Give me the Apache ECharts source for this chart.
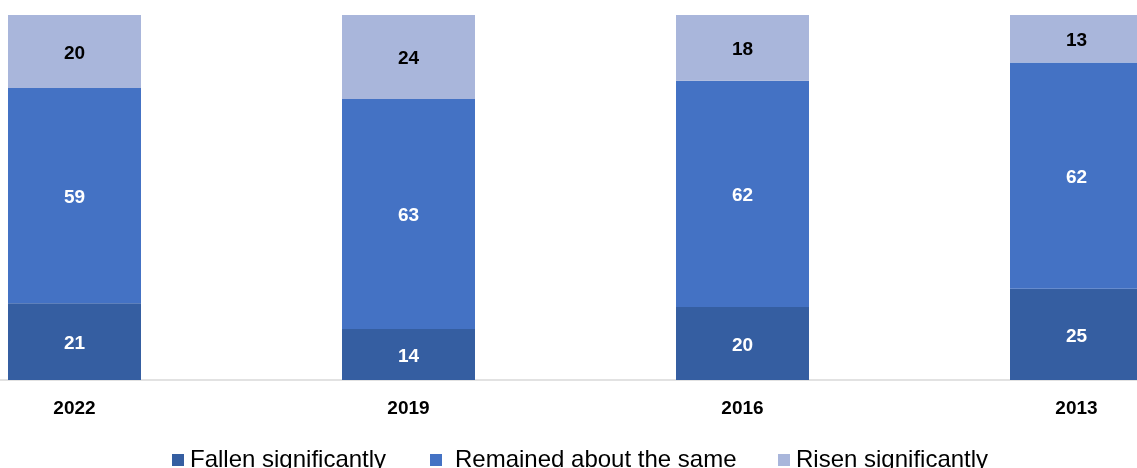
<!DOCTYPE html>
<html>
<head>
<meta charset="utf-8">
<script src="https://cdn.jsdelivr.net/npm/echarts@6/dist/echarts.min.js"></script>
<style>
html,body{margin:0;padding:0;background:#fff;}
#chart{width:1137px;height:468px;}
</style>
</head>
<body>
<div id="chart"></div>
<script>
var years = ['2022', '2019', '2016', '2013'];
var fallen = [21, 14, 20, 25];
var same = [59, 63, 62, 62];
var risen = [20, 24, 18, 13];
var seriesNames = ['Fallen significantly', 'Remained about the same', 'Risen significantly'];

var myChart = echarts.init(document.getElementById('chart'));

var fontName = 'Liberation Sans, Arial, sans-serif';

// label style for the segments
function segLabel(color)
{
	return {
		show: true,
		position: 'inside',
		offset: [0, 2],
		color: color,
		fontFamily: fontName,
		fontWeight: 'bold',
		fontSize: 19
	};
}

// one legend per item so each can sit where it is in the picture
function oneLegend(name, left, gap)
{
	return {
		top: 448,
		left: left,
		padding: 0,
		itemWidth: 12,
		itemHeight: 12,
		icon: 'rect',
		textStyle: {fontFamily: fontName, fontSize: 24, color: '#000', padding: [0, 0, 0, gap]},
		data: [name]
	};
}

var option = {
	animation: false,
	backgroundColor: '#ffffff',
	grid: {left: -92.5, top: 15, width: 1336, height: 365, outerBoundsMode: 'none', containLabel: false},
	legend: [
		oneLegend(seriesNames[0], 172, 1),
		oneLegend(seriesNames[1], 430, 8),
		oneLegend(seriesNames[2], 778, 1)
	],
	xAxis: {
		type: 'category',
		data: years,
		axisLine: {lineStyle: {color: '#d9d9d9', width: 1.5}},
		axisTick: {show: false},
		axisLabel: {
			margin: 19,
			color: '#000',
			fontFamily: fontName,
			fontWeight: 'bold',
			fontSize: 19
		}
	},
	yAxis: {
		type: 'value',
		min: 0,
		max: 100,
		show: false,
		splitLine: {show: false}
	},
	series: [
		{
			name: seriesNames[0],
			type: 'bar',
			stack: 'all',
			barWidth: 133,
			data: fallen,
			itemStyle: {color: '#355ea1'},
			label: segLabel('#ffffff')
		},
		{
			name: seriesNames[1],
			type: 'bar',
			stack: 'all',
			barWidth: 133,
			data: same,
			itemStyle: {color: '#4472c4'},
			label: segLabel('#ffffff')
		},
		{
			name: seriesNames[2],
			type: 'bar',
			stack: 'all',
			barWidth: 133,
			data: risen,
			itemStyle: {color: '#a9b6db'},
			label: segLabel('#000000')
		}
	]
};

myChart.setOption(option);
</script>
</body>
</html>
